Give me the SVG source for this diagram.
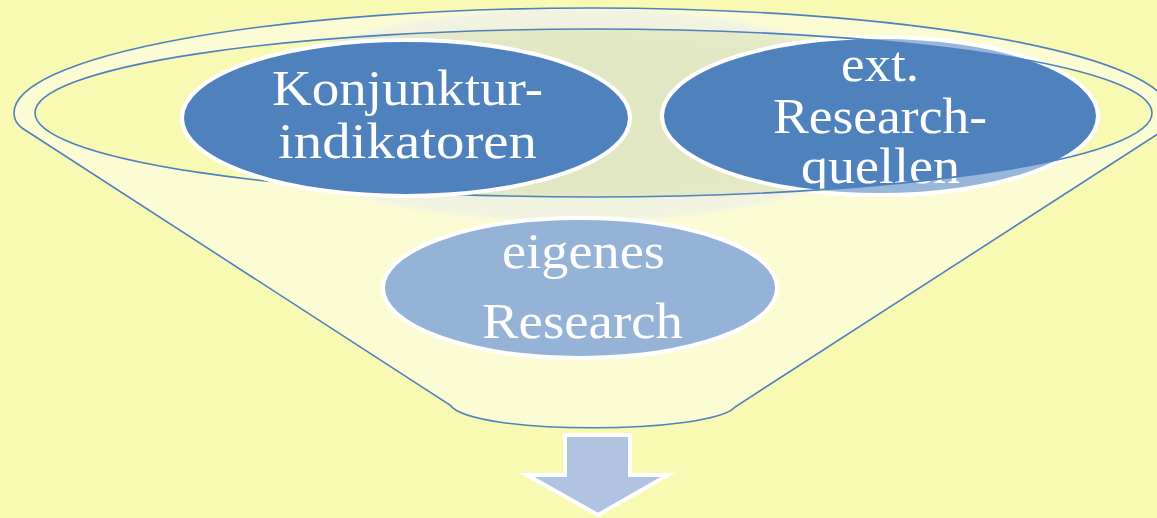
<svg xmlns="http://www.w3.org/2000/svg" width="1157" height="518" viewBox="0 0 1157 518">
  <defs>
    <style>
      .label { font-family: "Liberation Serif", "Times New Roman", serif; font-size: 51px; fill: #ffffff; text-anchor: middle; }
      .line { fill: none; stroke: #4F81BD; stroke-width: 1.6; }
      .node-dark { fill: #4F81BD; stroke: #ffffff; stroke-width: 4; }
      .node-light { fill: #95B3D7; stroke: #ffffff; stroke-width: 4; }
    </style>
    <radialGradient id="shadowGrad" cx="0.5" cy="0.5" r="0.5">
      <stop offset="0" stop-color="#E1E7C2"/>
      <stop offset="0.8" stop-color="#E3E8C5"/>
      <stop offset="0.95" stop-color="#E9EDCD"/>
      <stop offset="1" stop-color="#F0F3C4" stop-opacity="0"/>
    </radialGradient>
    <clipPath id="funnelClip">
      <path d="M 1164,130 L 735,407 C 712,434 472,436 450,405 L 22,128 Q 14,122 14,113 A 578 105 0 0 1 1170,113 Q 1170,122 1164,130 Z"/>
    </clipPath>
    <clipPath id="extClip">
      <ellipse cx="880" cy="116" rx="218" ry="79"/>
    </clipPath>
  </defs>

  <rect x="0" y="0" width="1157" height="518" fill="#F8FAB4"/>

  <g id="funnel-back">
    <ellipse cx="575" cy="115" rx="345" ry="110" fill="url(#shadowGrad)" clip-path="url(#funnelClip)"/>
  </g>

  <g id="node-ext">
    <ellipse class="node-dark" cx="880" cy="116" rx="218" ry="79"/>
    <g clip-path="url(#extClip)">
      <text class="label" x="880" y="81" textLength="78" lengthAdjust="spacingAndGlyphs">ext.</text>
      <text class="label" x="880" y="133" textLength="214" lengthAdjust="spacingAndGlyphs">Research-</text>
      <text class="label" x="880.5" y="183" textLength="159" lengthAdjust="spacingAndGlyphs">quellen</text>
    </g>
  </g>

  <g id="funnel-front">
    <path d="M 1164,130 L 735,407 C 712,434 472,436 450,405 L 22,128 Q 14,122 14,113 A 578 105 0 0 1 1170,113 Q 1170,122 1164,130 Z M 35,113 A 558.5 84 0 1 0 1152,113 A 558.5 84 0 1 0 35,113 Z" fill="#ffffff" fill-opacity="0.42" fill-rule="evenodd"/>
    <path class="line" d="M 1164,130 L 735,407 C 712,434 472,436 450,405 L 22,128 Q 14,122 14,113 A 578 105 0 0 1 1170,113 Q 1170,122 1164,130"/>
    <ellipse class="line" cx="593.5" cy="113" rx="558.5" ry="84"/>
  </g>

  <g id="node-konjunktur">
    <ellipse class="node-dark" cx="406" cy="118" rx="224" ry="78"/>
    <text class="label" x="407.5" y="105" textLength="271" lengthAdjust="spacingAndGlyphs">Konjunktur-</text>
    <text class="label" x="407.5" y="158" textLength="259" lengthAdjust="spacingAndGlyphs">indikatoren</text>
  </g>

  <g id="node-eigenes">
    <ellipse class="node-light" cx="580" cy="288" rx="197" ry="70"/>
    <text class="label" x="583.5" y="268" textLength="163" lengthAdjust="spacingAndGlyphs">eigenes</text>
    <text class="label" x="582.5" y="338" textLength="201" lengthAdjust="spacingAndGlyphs">Research</text>
  </g>

  <g id="connectors">
    <polygon points="565,435 630,435 630,475 668,475 598,515 527,475 565,475" fill="#B0C3E0" stroke="#ffffff" stroke-width="4" stroke-linejoin="miter"/>
  </g>
</svg>
